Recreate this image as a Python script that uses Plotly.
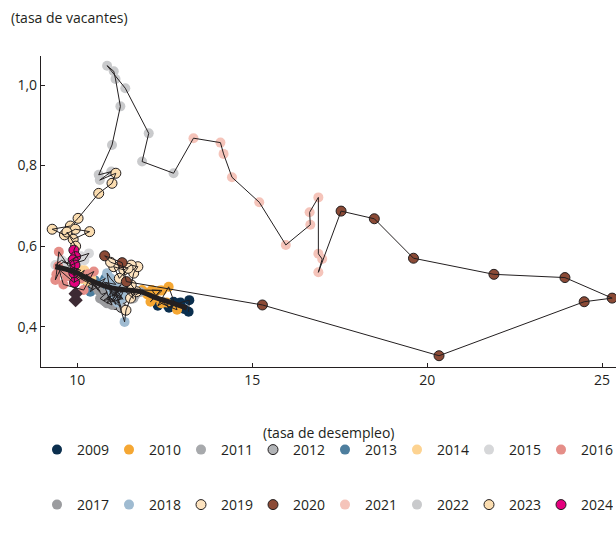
import plotly.graph_objects as go

# tasa de desempleo (x) y tasa de vacantes (y), mensual por año
anios = [2009, 2010, 2011, 2012, 2013, 2014, 2015, 2016,
         2017, 2018, 2019, 2020, 2021, 2022, 2023, 2024]

des_2009 = [13.18, 13.2, 12.95, 12.82, 13.05, 12.9, 12.68, 12.75, 12.55, 12.62, 12.45, 12.3]
vac_2009 = [0.437, 0.466, 0.46, 0.452, 0.444, 0.458, 0.45, 0.462, 0.455, 0.447, 0.46, 0.452]
des_2010 = [12.61, 12.85, 12.4, 12.13, 12.42, 12.09, 12.37, 11.85, 12.2, 12.0, 12.55, 11.95]
vac_2010 = [0.499, 0.442, 0.458, 0.491, 0.49, 0.462, 0.49, 0.491, 0.472, 0.48, 0.46, 0.485]
des_2011 = [11.8, 11.65, 11.5, 11.6, 11.35, 11.45, 11.2, 11.3, 11.1, 11.25, 11.05, 11.15]
vac_2011 = [0.486, 0.478, 0.495, 0.47, 0.49, 0.5, 0.482, 0.468, 0.49, 0.505, 0.476, 0.495]
des_2012 = [11.2, 11.0, 11.3, 10.95, 11.1, 10.9, 11.25, 11.05, 10.85, 11.15, 10.95, 10.8]
vac_2012 = [0.48, 0.462, 0.47, 0.49, 0.455, 0.476, 0.448, 0.5, 0.47, 0.485, 0.46, 0.495]
des_2013 = [10.9, 10.75, 10.6, 10.8, 10.5, 10.65, 10.4, 10.55, 10.37, 10.5, 10.3, 10.45]
vac_2013 = [0.5, 0.512, 0.495, 0.52, 0.505, 0.488, 0.51, 0.498, 0.487, 0.515, 0.5, 0.492]
des_2014 = [10.4, 10.25, 10.3, 10.1, 10.2, 10.05, 10.15, 9.95, 10.0, 9.9, 10.1, 9.85]
vac_2014 = [0.52, 0.53, 0.512, 0.525, 0.54, 0.53, 0.518, 0.535, 0.545, 0.528, 0.54, 0.548]
des_2015 = [9.8, 9.6, 9.45, 9.37, 9.55, 9.7, 9.9, 10.1, 10.33, 10.2, 10.0, 9.75]
vac_2015 = [0.555, 0.56, 0.552, 0.553, 0.565, 0.558, 0.57, 0.575, 0.582, 0.565, 0.56, 0.55]
des_2016 = [9.47, 9.4, 9.37, 9.5, 9.7, 9.9, 10.1, 10.3, 10.47, 10.18, 9.6, 9.45]
vac_2016 = [0.586, 0.53, 0.516, 0.54, 0.525, 0.51, 0.52, 0.53, 0.537, 0.491, 0.505, 0.55]
des_2017 = [10.5, 10.6, 10.7, 10.85, 10.65, 10.8, 10.99, 10.9, 10.75, 11.0, 10.85, 10.95]
vac_2017 = [0.5, 0.49, 0.48, 0.485, 0.47, 0.462, 0.454, 0.475, 0.465, 0.47, 0.458, 0.48]
des_2018 = [10.85, 10.95, 11.1, 10.8, 11.2, 11.0, 11.25, 10.9, 11.15, 11.3, 11.05, 11.35]
vac_2018 = [0.533, 0.52, 0.505, 0.51, 0.49, 0.48, 0.47, 0.5, 0.46, 0.485, 0.495, 0.412]
des_2019 = [11.39, 11.52, 11.69, 11.54, 11.61, 11.73, 11.54, 11.33, 11.04, 11.2, 11.45, 10.95]
vac_2019 = [0.441, 0.471, 0.487, 0.504, 0.533, 0.549, 0.553, 0.541, 0.549, 0.52, 0.545, 0.56]
des_2020 = [10.78, 11.28, 11.4, 15.29, 20.34, 24.49, 25.29, 23.94, 21.91, 19.61, 18.49, 17.54]
vac_2020 = [0.576, 0.559, 0.512, 0.454, 0.328, 0.462, 0.471, 0.522, 0.530, 0.570, 0.668, 0.687]
des_2021 = [16.89, 17.0, 16.89, 16.89, 16.64, 16.66, 15.96, 15.2, 14.42, 14.18, 14.09, 13.32]
vac_2021 = [0.535, 0.568, 0.581, 0.721, 0.684, 0.653, 0.603, 0.709, 0.771, 0.829, 0.857, 0.868]
des_2022 = [12.75, 11.85, 12.04, 11.37, 10.85, 11.04, 11.09, 11.23, 10.99, 10.61, 10.97, 10.64]
vac_2022 = [0.781, 0.81, 0.88, 0.992, 1.048, 1.034, 1.015, 0.947, 0.851, 0.777, 0.785, 0.764]
des_2023 = [11.1, 10.99, 10.61, 10.02, 9.8, 9.28, 9.63, 9.94, 10.35, 9.88, 9.7, 9.95]
vac_2023 = [0.781, 0.756, 0.731, 0.669, 0.65, 0.642, 0.628, 0.642, 0.636, 0.617, 0.635, 0.6]
des_2024 = [9.9, 9.95, 9.88, 9.93, 9.9, 9.92]
vac_2024 = [0.59, 0.574, 0.566, 0.553, 0.533, 0.51]

# últimos datos (rombos)
des_ult = [9.95, 9.95]
vac_ult = [0.482, 0.466]

# curva de Beveridge estimada
des_curva = [9.37, 9.9, 10.37, 10.85, 11.42, 11.8, 12.28, 12.75, 13.13]
vac_curva = [0.549, 0.537, 0.516, 0.499, 0.491, 0.487, 0.471, 0.458, 0.446]

colores = ['#0b2f4e', '#f5a733', '#a7a9ac', '#b1b3b6', '#4d7e9e', '#fdd391', '#d6d7d9', '#e58e88',
           '#9b9c9f', '#9fbbd1', '#fde3bf', '#8b4a36', '#f5c4ba', '#c9cacc', '#fbddb0', '#e5007e']
con_borde = [2012, 2019, 2020, 2023, 2024]

des = [des_2009, des_2010, des_2011, des_2012, des_2013, des_2014, des_2015, des_2016,
       des_2017, des_2018, des_2019, des_2020, des_2021, des_2022, des_2023, des_2024]
vac = [vac_2009, vac_2010, vac_2011, vac_2012, vac_2013, vac_2014, vac_2015, vac_2016,
       vac_2017, vac_2018, vac_2019, vac_2020, vac_2021, vac_2022, vac_2023, vac_2024]

fig = go.Figure()

for i, anio in enumerate(anios):
    fig.add_trace(go.Scatter(
        x=des[i], y=vac[i],
        mode='markers',
        name=str(anio),
        legend='legend' if i < 8 else 'legend2',
        marker=dict(size=10, color=colores[i],
                    line=dict(color='#231f20', width=1 if anio in con_borde else 0))
    ))

fig.add_trace(go.Scatter(
    x=des_ult, y=vac_ult, mode='markers', showlegend=False,
    marker=dict(symbol='diamond', size=11, color='#3d2a33')
))

todos_x = [x for serie in des for x in serie]
todos_y = [y for serie in vac for y in serie]
fig.add_trace(go.Scatter(
    x=todos_x, y=todos_y, mode='lines', showlegend=False,
    line=dict(color='#231f20', width=1)
))

fig.add_trace(go.Scatter(
    x=des_curva, y=vac_curva, mode='lines', showlegend=False,
    line=dict(color='#231f20', width=5, shape='spline')
))

fuente = dict(family='Open Sans', size=14, color='#231f20')
leyenda = dict(orientation='h', xref='container', yref='container', xanchor='left', yanchor='middle',
               entrywidth=27, entrywidthmode='pixels', font=fuente, itemwidth=30,
               bgcolor='rgba(0,0,0,0)')

fig.update_layout(
    width=616, height=534,
    margin=dict(l=41, r=0, t=56, b=167),
    plot_bgcolor='white', paper_bgcolor='white',
    font=fuente,
    separators=',.',
    legend=dict(leyenda, x=37 / 616, y=1 - 450 / 534),
    legend2=dict(leyenda, x=37 / 616, y=1 - 505 / 534),
    annotations=[
        dict(text='(tasa de vacantes)', xref='paper', yref='paper', x=-0.055, y=1.125,
             xanchor='left', yanchor='middle', showarrow=False, font=fuente),
        dict(text='(tasa de desempleo)', xref='paper', yref='paper', x=0.5, y=-0.21,
             xanchor='center', yanchor='middle', showarrow=False, font=fuente),
    ]
)

fig.update_xaxes(range=[8.96, 25.4], tickvals=[10, 15, 20, 25], ticks='inside', ticklen=4,
                 tickcolor='#231f20', showline=True, linecolor='#231f20', linewidth=1.2,
                 showgrid=False, zeroline=False)
fig.update_yaxes(range=[0.30, 1.072], tickvals=[0.4, 0.6, 0.8, 1.0], tickformat='.1f',
                 ticks='inside', ticklen=4, tickcolor='#231f20', showline=True,
                 linecolor='#231f20', linewidth=1.2, showgrid=False, zeroline=False)

fig.write_html('out.html', config={'displayModeBar': False},
               post_script="document.body.style.margin='0';")
